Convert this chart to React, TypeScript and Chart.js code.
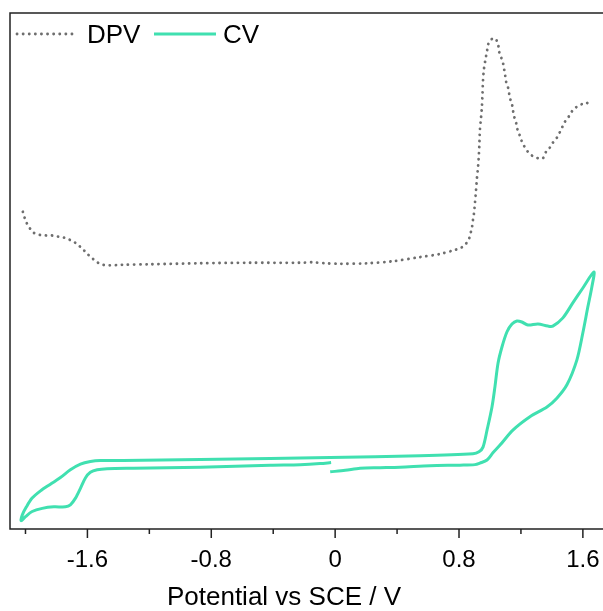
import React, { useEffect, useRef } from 'react';
import { Chart, registerables } from 'chart.js';

Chart.register(...registerables);

// ---------- data ----------
const xTickStep = 0.4;
const xLabelStep = 0.8;
const xTitle = 'Potential vs SCE / V';

const dpvPotential = [
  -2.017, -2.006, -1.992, -1.972, -1.946, -1.908, -1.869, -1.83, -1.792, -1.753,
  -1.718, -1.684, -1.654, -1.628, -1.6, -1.57, -1.537, -1.499, -1.458, -1.381,
  -1.194, -0.871, -0.548, -0.226, -0.148, -0.065, 0.032, 0.206, 0.374, 0.548,
  0.677, 0.774, 0.813,
  0.845, 0.865, 0.877, 0.884, 0.89, 0.897, 0.903, 0.91, 0.916, 0.923,
  0.929, 0.932, 0.935, 0.942, 0.948, 0.952, 0.955, 0.961, 0.974, 0.981,
  0.987, 1.006, 1.032, 1.052, 1.058, 1.071, 1.084, 1.09, 1.097, 1.103,
  1.116, 1.123, 1.129, 1.142, 1.148, 1.155, 1.168, 1.174, 1.187, 1.2,
  1.213, 1.232, 1.252, 1.277, 1.31, 1.342, 1.361, 1.381, 1.4, 1.426,
  1.445, 1.465, 1.477, 1.503, 1.523, 1.542, 1.568, 1.594, 1.619, 1.645,
];
const dpvCurrent = [
  61.4, 60.3, 59.2, 58.2, 57.3, 56.9, 56.8, 56.8, 56.6, 56.4,
  56.0, 55.5, 54.8, 54.1, 53.2, 52.4, 51.6, 51.1, 51.0, 51.1,
  51.2, 51.4, 51.5, 51.5, 51.6, 51.4, 51.3, 51.4, 51.8, 52.6,
  53.2, 54.0, 54.4,
  55.2, 56.2, 57.5, 58.4, 59.8, 61.2, 63.1, 65.6, 68.0, 70.1,
  72.8, 75.0, 77.3, 79.6, 81.9, 84.5, 86.8, 89.1, 91.5, 92.6,
  93.8, 94.8, 95.1, 94.0, 92.6, 91.5, 90.3, 89.3, 88.2, 86.8,
  85.6, 84.5, 83.5, 82.3, 81.2, 80.0, 78.8, 77.7, 76.7, 75.5,
  74.6, 73.6, 72.8, 72.2, 71.8, 71.8, 73.0, 73.6, 74.6, 75.5,
  76.5, 77.7, 78.6, 79.6, 80.6, 81.4, 81.9, 82.3, 82.3, 83.1,
];

// CV sweep 1: from ~0 V positive to the vertex
const cvSweep1Potential = [
  -0.032, 0.065, 0.161, 0.29, 0.419, 0.613, 0.806, 0.903, 0.935, 0.981,
  1.019, 1.065, 1.148, 1.258, 1.368, 1.432, 1.497, 1.561, 1.6, 1.632,
  1.658, 1.671,
];
const cvSweep1Current = [
  10.9, 11.2, 11.6, 11.7, 11.8, 12.1, 12.2, 12.3, 12.6, 13.2,
  14.6, 16.1, 19.0, 21.6, 23.5, 25.2, 27.8, 32.6, 37.9, 42.9,
  46.8, 49.7,
];
// CV sweep 2: from positive vertex to negative vertex
const cvSweep2Potential = [
  1.6, 1.535, 1.471, 1.406, 1.374, 1.31, 1.245, 1.206, 1.174, 1.142,
  1.11, 1.077, 1.052, 1.032, 1.013, 0.981, 0.955, 0.929, 0.89, 0.548,
  -0.032, -0.419, -0.871, -1.368, -1.516, -1.581, -1.645, -1.71, -1.774, -1.839,
  -1.903, -1.957, -1.994, -2.021, -2.028,
];
const cvSweep2Current = [
  46.6, 43.7, 40.8, 39.2, 39.2, 39.6, 39.4, 40.0, 40.2, 39.6,
  38.1, 35.1, 32.0, 27.4, 23.5, 19.0, 15.7, 14.8, 14.4, 14.0,
  13.7, 13.5, 13.3, 13.1, 13.1, 12.9, 12.4, 11.3, 9.8, 8.5,
  7.2, 5.8, 4.1, 2.5, 1.4,
];
// CV sweep 3: from negative vertex back to ~0 V
const cvSweep3Potential = [
  -2.0, -1.957, -1.892, -1.817, -1.742, -1.71, -1.677, -1.645, -1.613, -1.581,
  -1.537, -1.473, -1.303, -0.871, -0.419, -0.226, -0.097, -0.026,
];
const cvSweep3Current = [
  2.2, 3.2, 3.8, 4.1, 4.1, 4.5, 5.8, 7.7, 9.7, 10.8,
  11.3, 11.5, 11.6, 11.8, 12.2, 12.3, 12.5, 12.7,
];

// ---------- styling ----------
const FONT = '"Liberation Sans", Arial, sans-serif';
const X_MIN = -2.1;
const X_MAX = 1.73;

const pairs = (xs: number[], ys: number[]) => xs.map((x, i) => ({ x, y: ys[i] }));
const isLabelTick = (v: number) => Math.abs(v / xLabelStep - Math.round(v / xLabelStep)) < 1e-6;

const framePlugin = {
  id: 'framePlugin',
  afterDraw(chart: any) {
    const { ctx, chartArea: a, scales } = chart;
    const xs = scales.x;
    ctx.save();
    ctx.setLineDash([]);
    ctx.strokeStyle = '#222';
    ctx.lineWidth = 1.5;
    ctx.beginPath();
    ctx.moveTo(a.right + 2, a.top);
    ctx.lineTo(a.left, a.top);
    ctx.lineTo(a.left, a.bottom);
    ctx.lineTo(a.right + 2, a.bottom);
    ctx.stroke();
    ctx.beginPath();
    xs.ticks.forEach((t: any) => {
      const px = xs.getPixelForValue(t.value);
      const len = isLabelTick(t.value) ? 9 : 5;
      ctx.moveTo(px, a.bottom);
      ctx.lineTo(px, a.bottom + len);
    });
    ctx.stroke();

    // axis title
    ctx.fillStyle = '#000';
    ctx.font = `26px ${FONT}`;
    ctx.textBaseline = 'alphabetic';
    ctx.textAlign = 'center';
    ctx.fillText(xTitle, 284, 605);

    // legend
    const items = [
      { ds: chart.data.datasets[0], x0: 17, x1: 73, tx: 87 },
      { ds: chart.data.datasets[1], x0: 154, x1: 216, tx: 223 },
    ];
    items.forEach(({ ds, x0, x1, tx }) => {
      ctx.save();
      ctx.strokeStyle = ds.borderColor;
      ctx.lineWidth = ds.borderWidth;
      ctx.lineCap = ds.borderCapStyle || 'butt';
      ctx.setLineDash(ds.borderDash || []);
      ctx.beginPath();
      ctx.moveTo(x0, 34);
      ctx.lineTo(x1, 34);
      ctx.stroke();
      ctx.restore();
      ctx.fillStyle = '#000';
      ctx.font = `26px ${FONT}`;
      ctx.textBaseline = 'alphabetic';
      ctx.textAlign = 'left';
      ctx.fillText(ds.label, tx, 43);
    });
    ctx.restore();
  },
};

export default function App() {
  const ref = useRef<HTMLCanvasElement>(null);
  useEffect(() => {
    document.body.style.margin = '0';
    const chart = new Chart(ref.current as HTMLCanvasElement, {
      type: 'line',
      data: {
        datasets: [
          {
            label: 'DPV',
            data: pairs(dpvPotential, dpvCurrent),
            borderColor: '#6e6e6e',
            borderWidth: 2.8,
            borderDash: [0.1, 6],
            borderCapStyle: 'round',
            pointRadius: 0,
            tension: 0.3,
            fill: false,
          } as any,
          {
            label: 'CV',
            data: [
              ...pairs(cvSweep1Potential, cvSweep1Current),
              ...pairs(cvSweep2Potential, cvSweep2Current),
              ...pairs(cvSweep3Potential, cvSweep3Current),
            ],
            borderColor: '#40e0b0',
            borderWidth: 3,
            pointRadius: 0,
            tension: 0.3,
            fill: false,
          } as any,
        ],
      },
      options: {
        animation: false,
        responsive: false,
        layout: { padding: { left: 10, top: 13, right: 0, bottom: 0 } },
        plugins: { legend: { display: false }, tooltip: { enabled: false } },
        scales: {
          x: {
            type: 'linear',
            min: X_MIN,
            max: X_MAX,
            grid: { display: false },
            border: { display: false },
            afterFit: (scale: any) => {
              scale.height = 82;
              scale.paddingLeft = 0;
              scale.paddingRight = 0;
            },
            ticks: {
              stepSize: xTickStep,
              includeBounds: false,
              autoSkip: false,
              maxRotation: 0,
              padding: 9,
              color: '#000',
              font: { family: FONT, size: 24 },
              callback: (v: any) => {
                const n = Number(v);
                if (!isLabelTick(n)) return '';
                const r = Math.round(n * 10) / 10;
                return r === 0 ? '0' : r.toFixed(1);
              },
            },
            title: { display: false, text: xTitle },
          },
          y: { display: false, min: -0.2, max: 100 },
        },
      } as any,
      plugins: [framePlugin],
    });
    return () => chart.destroy();
  }, []);
  return (
    <div style={{ position: 'fixed', left: 0, top: 0, width: 603, height: 611, background: '#fff' }}>
      <canvas ref={ref} width={603} height={611} style={{ display: 'block' }} />
    </div>
  );
}
